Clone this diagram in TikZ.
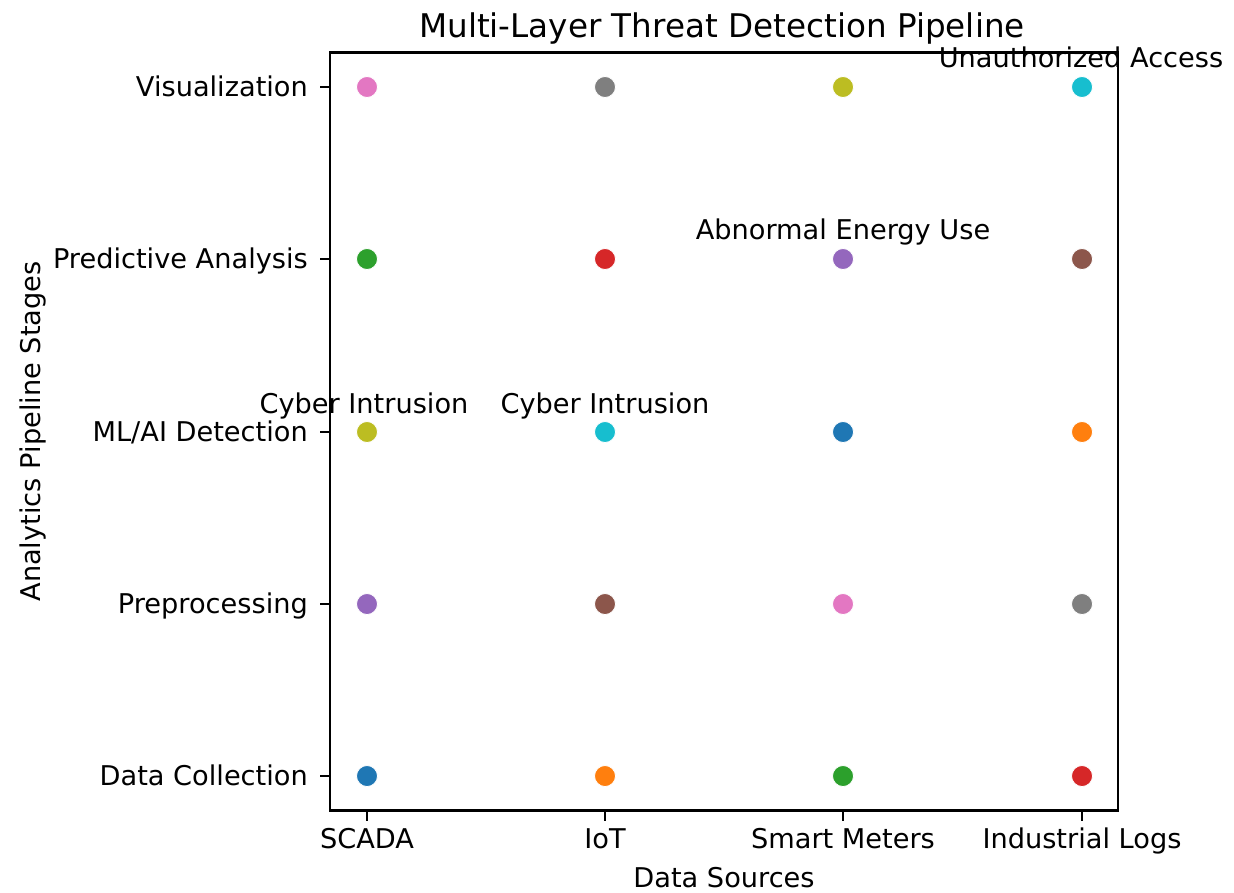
\documentclass[tikz,border=0pt]{standalone}
\usepackage{fontspec}
\setmainfont{DejaVu Sans}
\definecolor{c0}{HTML}{1F77B4}
\definecolor{c1}{HTML}{FF7F0E}
\definecolor{c2}{HTML}{2CA02C}
\definecolor{c3}{HTML}{D62728}
\definecolor{c4}{HTML}{9467BD}
\definecolor{c5}{HTML}{8C564B}
\definecolor{c6}{HTML}{E377C2}
\definecolor{c7}{HTML}{7F7F7F}
\definecolor{c8}{HTML}{BCBD22}
\definecolor{c9}{HTML}{17BECF}
\begin{document}
\begin{tikzpicture}[x=1pt,y=-1pt,
  dot/.style={circle,fill=#1,draw=white,line width=0.8pt,minimum size=21pt,inner sep=0pt},
  lab/.style={font=\fontsize{27.2}{32}\selectfont,inner sep=0pt,text=black},
  ttl/.style={font=\fontsize{32.6}{38}\selectfont,inner sep=0pt,text=black},
  spine/.style={line width=2.2pt,black},
  tck/.style={line width=2.2pt,black}]
\useasboundingbox[fill=white] (0,0) rectangle (1234,892);
% axes frame
\draw[spine] (330,52.5) rectangle (1118,810.5);
% y ticks
\foreach \yy/\nm/\t in {776/ydc/{Data Collection},604/ypp/{Preprocessing},432/yml/{ML/AI Detection},259/ypa/{Predictive Analysis},87/yvi/{Visualization}}{
  \draw[tck] (320,\yy) -- (330,\yy);
  \node[lab,anchor=base east] (\nm) at (308,\yy+9.7) {\t};
}
% x ticks
\foreach \xx/\nm/\t in {367/xsc/{SCADA},605/xio/{IoT},843/xsm/{Smart Meters},1082/xil/{Industrial Logs}}{
  \draw[tck] (\xx,810.5) -- (\xx,820.5);
  \node[lab,anchor=base] (\nm) at (\xx,848) {\t};
}
% axis labels and title
\node[lab,anchor=base] (xlabel) at (724,887) {Data Sources};
\node[lab,anchor=base,rotate=90] (ylabel) at (40,431.5) {Analytics Pipeline Stages};
\node[ttl,anchor=base] (title) at (722,37) {Multi-Layer Threat Detection Pipeline};
% points
\node[dot=c0] (p00) at (367,776) {};
\node[dot=c1] (p10) at (605,776) {};
\node[dot=c2] (p20) at (843,776) {};
\node[dot=c3] (p30) at (1082,776) {};
\node[dot=c4] (p01) at (367,604) {};
\node[dot=c5] (p11) at (605,604) {};
\node[dot=c6] (p21) at (843,604) {};
\node[dot=c7] (p31) at (1082,604) {};
\node[dot=c8] (p02) at (367,432) {};
\node[dot=c9] (p12) at (605,432) {};
\node[dot=c0] (p22) at (843,432) {};
\node[dot=c1] (p32) at (1082,432) {};
\node[dot=c2] (p03) at (367,259) {};
\node[dot=c3] (p13) at (605,259) {};
\node[dot=c4] (p23) at (843,259) {};
\node[dot=c5] (p33) at (1082,259) {};
\node[dot=c6] (p04) at (367,87) {};
\node[dot=c7] (p14) at (605,87) {};
\node[dot=c8] (p24) at (843,87) {};
\node[dot=c9] (p34) at (1082,87) {};
% annotations
\node[lab,anchor=base] (a1) at (364,413) {Cyber Intrusion};
\node[lab,anchor=base] (a2) at (605,413) {Cyber Intrusion};
\node[lab,anchor=base] (a3) at (843,239) {Abnormal Energy Use};
\node[lab,anchor=base] (a4) at (1081,67) {Unauthorized Access};
\end{tikzpicture}
\end{document}
